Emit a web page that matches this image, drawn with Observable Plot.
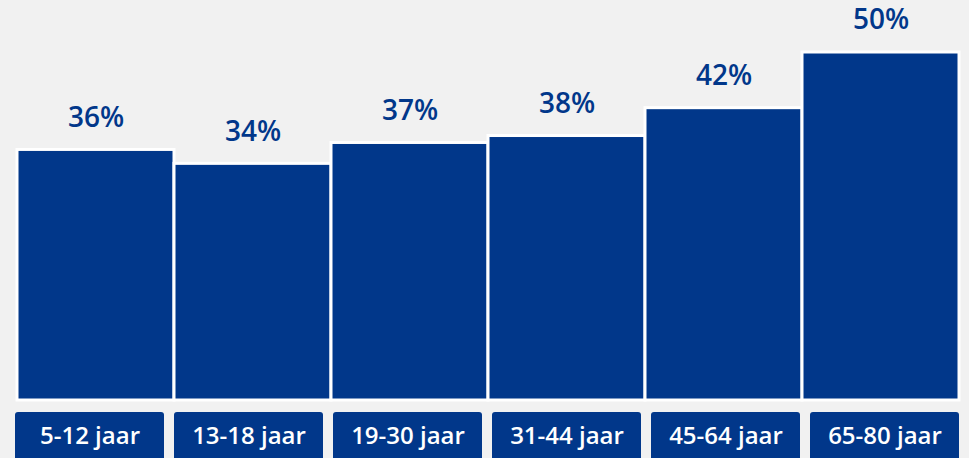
<!DOCTYPE html>
<html>
<head>
<meta charset="utf-8">
<script src="https://cdn.jsdelivr.net/npm/d3@7"></script>
<script src="https://cdn.jsdelivr.net/npm/@observablehq/plot@0.6"></script>
<style>
  html, body { margin: 0; padding: 0; background: #f1f1f1; }
  #chart { width: 969px; height: 458px; overflow: hidden; }
  #chart svg { display: block; background: transparent; }
</style>
</head>
<body>
<div id="chart"></div>
<script>
const categories = ["5-12 jaar", "13-18 jaar", "19-30 jaar", "31-44 jaar", "45-64 jaar", "65-80 jaar"];
const values = [36, 34, 37, 38, 42, 50];
const valueLabels = ["36%", "34%", "37%", "38%", "42%", "50%"];

const blue = "#01378a";
const data = categories.map((c, i) => ({cat: c, value: values[i], label: valueLabels[i]}));

const bars = Plot.plot({
  width: 969,
  height: 412,
  marginTop: 0, marginBottom: 0, marginLeft: 0, marginRight: 0,
  style: {background: "transparent", overflow: "visible"},
  x: {domain: categories, range: [16.5, 958.5], padding: 0, axis: null},
  y: {domain: [0, 50], range: [400, 52], axis: null},
  marks: [
    Plot.barY(data, {x: "cat", y: "value", fill: blue, stroke: "white", strokeWidth: 3}),
    Plot.text(data, {x: "cat", y: "value", text: "label", dy: -32, fill: blue,
      fontSize: 28, fontWeight: 600, fontFamily: "'Open Sans', sans-serif"})
  ]
});

const labels = Plot.plot({
  width: 969,
  height: 46,
  marginTop: 0, marginBottom: 0, marginLeft: 0, marginRight: 0,
  style: {background: "transparent"},
  x: {domain: categories, range: [14, 961], paddingInner: 0.06, paddingOuter: 0, axis: null},
  marks: [
    Plot.cell(categories, {x: d => d, fill: blue, rx: 3, insetBottom: -6}),
    Plot.text(categories, {x: d => d, text: d => d, fill: "white", dy: 1,
      fontSize: 24, fontWeight: 600, fontFamily: "'Open Sans', sans-serif"})
  ]
});

const el = document.getElementById("chart");
el.appendChild(bars);
el.appendChild(labels);
</script>
</body>
</html>
